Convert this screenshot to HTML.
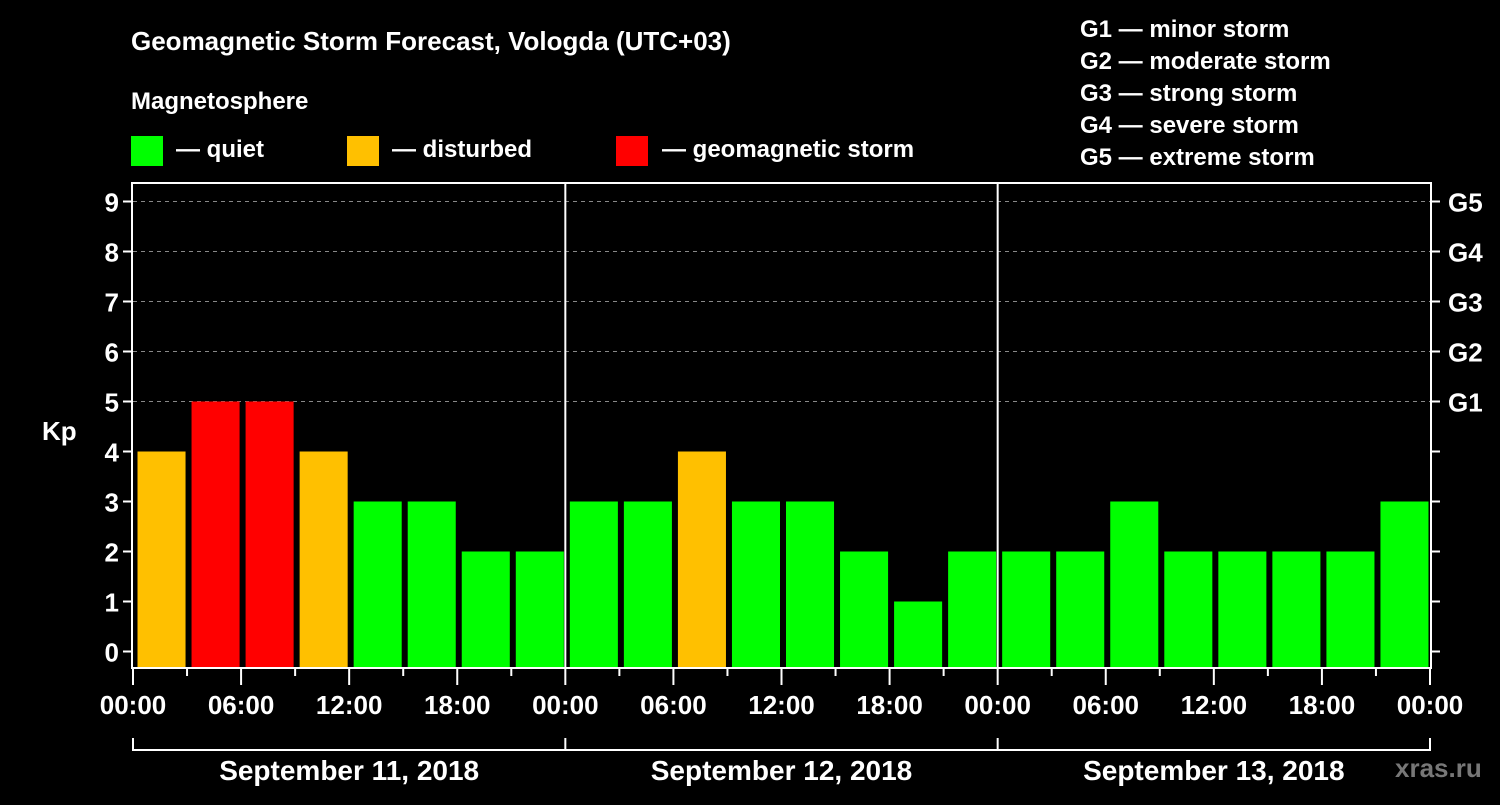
<!DOCTYPE html>
<html><head><meta charset="utf-8"><style>
body{margin:0;background:#000;width:1500px;height:800px;overflow:hidden}
svg text{font-family:"Liberation Sans",sans-serif;font-weight:bold;fill:#fff}
</style></head><body>
<svg id="c" width="1500" height="800" xmlns="http://www.w3.org/2000/svg">
<text x="131" y="50" font-size="26">Geomagnetic Storm Forecast, Vologda (UTC+03)</text>
<text x="131" y="109" font-size="24">Magnetosphere</text>
<g><rect x="131" y="136" width="32" height="30" fill="#00ff00"/><text x="176" y="157" font-size="24">— quiet</text></g>
<g><rect x="347" y="136" width="32" height="30" fill="#ffc000"/><text x="392" y="157" font-size="24">— disturbed</text></g>
<g><rect x="616" y="136" width="32" height="30" fill="#ff0000"/><text x="662" y="157" font-size="24">— geomagnetic storm</text></g>
<g font-size="24">
<text x="1080" y="37">G1 — minor storm</text><text x="1080" y="69">G2 — moderate storm</text><text x="1080" y="101">G3 — strong storm</text><text x="1080" y="133">G4 — severe storm</text><text x="1080" y="165">G5 — extreme storm</text></g>
<text x="42" y="440" font-size="26">Kp</text>
<text x="1395" y="777" font-size="26" style="fill:#777">xras.ru</text>
<g id="grid"></g><g id="bars"></g><g id="axes"></g>
</svg>
<script>
const values=[4,5,5,4,3,3,2,2, 3,3,4,3,3,2,1,2, 2,2,3,2,2,2,2,3];
const yTicks=[0,1,2,3,4,5,6,7,8,9];
const gLabels=["G1","G2","G3","G4","G5"];
const timeLabels=["00:00","06:00","12:00","18:00"];
const days=["September 11, 2018","September 12, 2018","September 13, 2018"];
const L=133,R=1430,T=183,B=668;
const slot=(R-L)/values.length;
const x=i=>L+i*slot;
const y=v=>651.5-v*50;
const NS="http://www.w3.org/2000/svg";
function mk(tag,attrs,parent,txt){const e=document.createElementNS(NS,tag);for(const k in attrs)e.setAttribute(k,attrs[k]);if(txt!==undefined)e.textContent=txt;document.getElementById(parent).appendChild(e);return e;}
const color=v=>v>=5?"#ff0000":v>=4?"#ffc000":"#00ff00";
yTicks.forEach(v=>{
 if(v>=5){const g=mk("line",{x1:L,x2:R,y1:y(v),y2:y(v),stroke:"#888","stroke-width":1,"stroke-dasharray":"4,4"},"grid");
 
 }
 const t=mk("line",{x1:L-10,x2:L,y1:y(v),y2:y(v),stroke:"#fff","stroke-width":2},"axes");
 
 
 const t2=mk("line",{x1:R,x2:R+10,y1:y(v),y2:y(v),stroke:"#fff","stroke-width":2},"axes");
 
 
 const l=mk("text",{x:L-14,y:y(v)+10,"font-size":26,"text-anchor":"end"},"axes",String(v));
 
 
});
gLabels.forEach((g,i)=>{
 const l=mk("text",{x:R+18,y:y(5+i)+10,"font-size":26},"axes",g);
 
 
});
values.forEach((v,i)=>{
 const b=mk("rect",{x:x(i)+4.5,y:y(v),width:slot-6,height:B-y(v),fill:color(v)},"bars");
 
 
});
// frame
const fr=mk("rect",{x:L-1,y:T,width:R-L+2,height:B-T,fill:"none",stroke:"#fff","stroke-width":2},"axes");


const perDay=values.length/days.length;
for(let d=1;d<days.length;d++){
 const s=mk("line",{x1:x(d*perDay),x2:x(d*perDay),y1:T,y2:B,stroke:"#fff","stroke-width":2},"axes");
 
 
}
for(let i=0;i<=values.length;i++){
 const major=i%2===0;
 const t=mk("line",{x1:x(i),x2:x(i),y1:B,y2:B+(major?17:8),stroke:"#fff","stroke-width":2},"axes");
 
 
 if(major){
  const lab=timeLabels[(i/2)%timeLabels.length];
  const l=mk("text",{x:x(i),y:714,"font-size":26,"text-anchor":"middle"},"axes",lab);
  
  
 }
}
const br=mk("path",{d:`M${L},738 V750 H${R} V738`,fill:"none",stroke:"#fff","stroke-width":2},"axes");


days.forEach((d,k)=>{
 const v=mk("line",{x1:x(k*perDay),x2:x(k*perDay),y1:738,y2:750,stroke:"#fff","stroke-width":2},"axes");
 
 
 const l=mk("text",{x:(x(k*perDay)+x((k+1)*perDay))/2,y:780,"font-size":28,"text-anchor":"middle"},"axes",d);
 
 
});
</script>
</body></html>
